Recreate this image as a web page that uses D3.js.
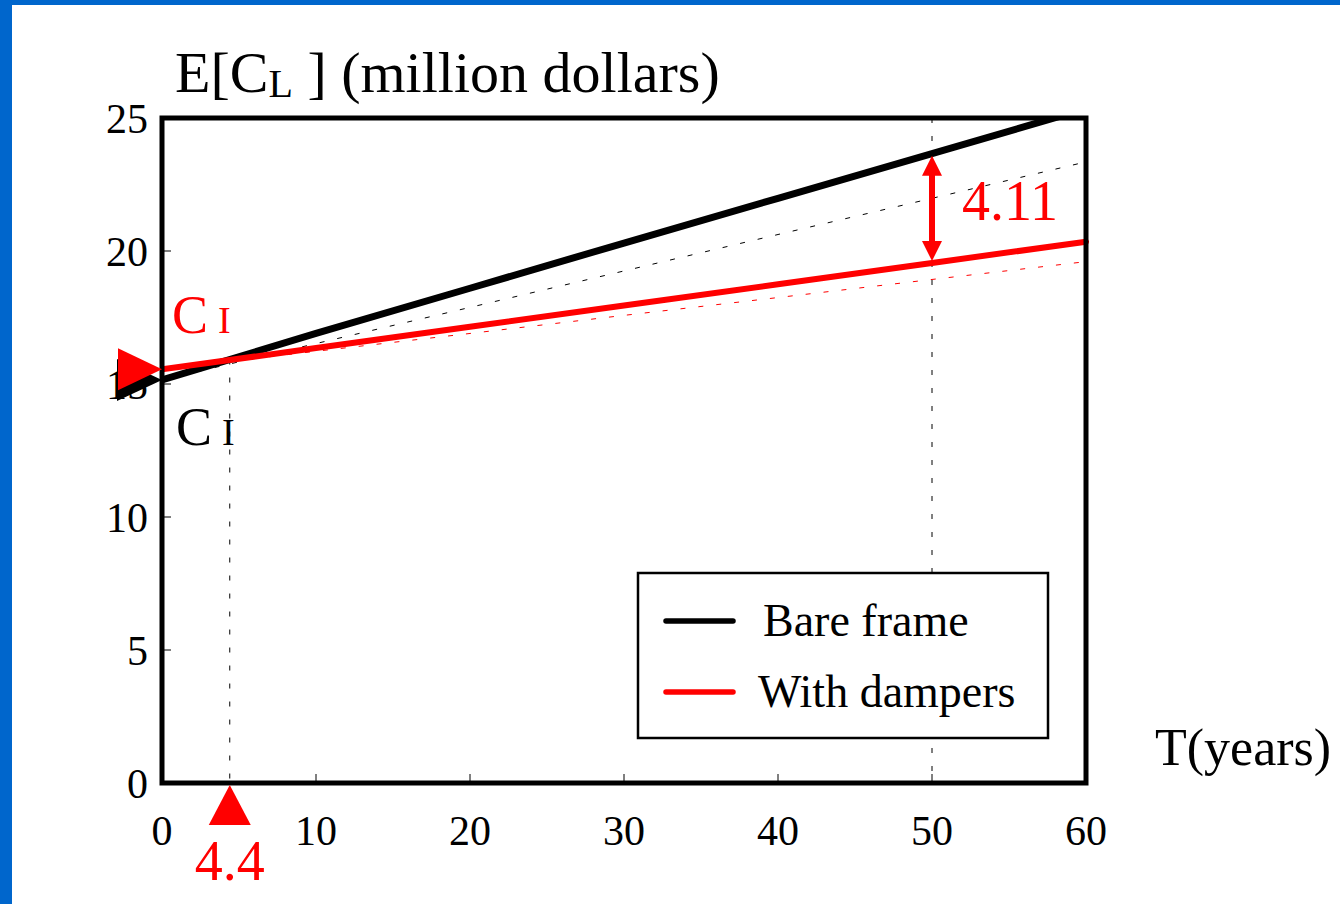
<!DOCTYPE html>
<html>
<head>
<meta charset="utf-8">
<script src="https://cdn.jsdelivr.net/npm/d3@7"></script>
<style>
  html, body { margin: 0; padding: 0; background: #fff; }
  svg { display: block; }
  text { font-family: "Liberation Serif", "Times New Roman", serif; }
</style>
</head>
<body>
<svg id="chart" width="1340" height="904"></svg>
<script>
// Expected life-cycle cost vs. design life
const years        = [0, 10, 20, 30, 40, 50, 60];
const bareFrame    = [15.15, 16.9, 18.6, 20.3, 21.98, 23.66, 25.35];
const withDampers  = [15.55, 16.35, 17.15, 17.95, 18.75, 19.55, 20.35];
const bareRef      = [15.15, 16.52, 17.88, 19.25, 20.62, 21.98, 23.35];
const dampersRef   = [15.55, 16.23, 16.9, 17.58, 18.25, 18.93, 19.6];
const xTicks = [0, 10, 20, 30, 40, 50, 60];
const yTicks = [0, 5, 10, 15, 20, 25];
const breakEven = 4.4;
const compareYear = 50;
const gapLabel = "4.11";
const seriesNames = ["Bare frame", "With dampers"];
const seriesColors = ["#000000", "#ff0000"];

(function draw() {
  const svg = d3.select("#chart");
  const W = 1340, H = 904;
  const pL = 162, pR = 1086, pT = 118, pB = 783;

  const x = d3.scaleLinear().domain([0, 60]).range([pL, pR]);
  const y = d3.scaleLinear().domain([0, 25]).range([pB, pT]);

  // slide border
  svg.append("rect").attr("x", 0).attr("y", 0).attr("width", W).attr("height", 5).attr("fill", "#0066cc");
  svg.append("rect").attr("x", 0).attr("y", 0).attr("width", 12).attr("height", H).attr("fill", "#0066cc");

  svg.append("defs").append("clipPath").attr("id", "plot")
    .append("rect").attr("x", pL).attr("y", pT).attr("width", pR - pL + 4).attr("height", pB - pT);

  const line = d3.line().x((d, i) => x(years[i])).y(d => y(d));
  const plot = svg.append("g").attr("clip-path", "url(#plot)");

  // guide lines
  const dash = "5,13";
  const crossY = bareFrame[0] + (bareFrame[1] - bareFrame[0]) * breakEven / 10;
  plot.append("line")
    .attr("x1", x(breakEven)).attr("x2", x(breakEven))
    .attr("y1", y(crossY)).attr("y2", pB)
    .attr("stroke", "#000").attr("stroke-width", 1).attr("stroke-dasharray", dash);
  plot.append("line")
    .attr("x1", x(compareYear)).attr("x2", x(compareYear))
    .attr("y1", pT).attr("y2", pB)
    .attr("stroke", "#000").attr("stroke-width", 1).attr("stroke-dasharray", dash);

  plot.append("path").datum(bareRef).attr("d", line)
    .attr("fill", "none").attr("stroke", "#000").attr("stroke-width", 1).attr("stroke-dasharray", dash);
  plot.append("path").datum(dampersRef).attr("d", line)
    .attr("fill", "none").attr("stroke", "#ff0000").attr("stroke-width", 1).attr("stroke-dasharray", dash);

  // main series
  plot.append("path").datum(bareFrame).attr("d", line)
    .attr("fill", "none").attr("stroke", "#000").attr("stroke-width", 7).attr("stroke-linecap", "round");
  plot.append("path").datum(withDampers).attr("d", line)
    .attr("fill", "none").attr("stroke", "#ff0000").attr("stroke-width", 6).attr("stroke-linecap", "round");

  // ticks (inward)
  const tickG = svg.append("g");
  yTicks.filter(v => v > 0 && v < 25).forEach(v => {
    tickG.append("line").attr("x1", pL).attr("x2", pL + 9).attr("y1", y(v)).attr("y2", y(v))
      .attr("stroke", "#000").attr("stroke-width", 1);
  });
  xTicks.filter(v => v > 0 && v < 60).forEach(v => {
    tickG.append("line").attr("x1", x(v)).attr("x2", x(v)).attr("y1", pB).attr("y2", pB - 9)
      .attr("stroke", "#000").attr("stroke-width", 1);
  });

  // frame
  svg.append("rect").attr("x", pL).attr("y", pT).attr("width", pR - pL).attr("height", pB - pT)
    .attr("fill", "none").attr("stroke", "#000").attr("stroke-width", 5);

  // tick labels
  svg.append("g").selectAll("text").data(yTicks).join("text")
    .attr("x", 148).attr("y", d => y(d) + 15)
    .attr("text-anchor", "end").attr("font-size", 42).attr("fill", "#000").text(d => d);
  svg.append("g").selectAll("text").data(xTicks).join("text")
    .attr("x", d => x(d)).attr("y", 845)
    .attr("text-anchor", "middle").attr("font-size", 42).attr("fill", "#000").text(d => d);

  // axis titles
  const t = svg.append("text").attr("x", 175).attr("y", 92).attr("font-size", 58).attr("fill", "#000");
  t.append("tspan").text("E[C");
  t.append("tspan").attr("font-size", 40).attr("dy", 5).text("L");
  t.append("tspan").attr("dy", -5).text(" ] (million dollars)");
  svg.append("text").attr("x", 1155).attr("y", 765).attr("font-size", 52).attr("fill", "#000").text("T(years)");

  // initial cost markers
  const tri = (cx, cy, w, h) => `M${cx - w},${cy - h / 2}L${cx},${cy}L${cx - w},${cy + h / 2}Z`;
  svg.append("path").attr("d", tri(x(0), y(bareFrame[0]), 45, 42)).attr("fill", "#000");
  svg.append("path").attr("d", tri(x(0), y(withDampers[0]), 44, 42)).attr("fill", "#ff0000");

  const cRed = svg.append("text").attr("x", 172).attr("y", 333).attr("font-size", 54).attr("fill", "#ff0000");
  cRed.append("tspan").text("C");
  cRed.append("tspan").attr("font-size", 38).attr("dx", 10).text("I");
  const cBlack = svg.append("text").attr("x", 176).attr("y", 445).attr("font-size", 54).attr("fill", "#000");
  cBlack.append("tspan").text("C");
  cBlack.append("tspan").attr("font-size", 38).attr("dx", 10).text("I");

  // break-even marker
  const bx = x(breakEven);
  svg.append("path").attr("d", `M${bx},${pB + 2}L${bx + 21},825L${bx - 21},825Z`).attr("fill", "#ff0000");
  svg.append("text").attr("x", bx).attr("y", 880).attr("text-anchor", "middle")
    .attr("font-size", 56).attr("fill", "#ff0000").text(breakEven);

  // cost gap arrow at compare year
  const ci = years.indexOf(compareYear);
  const yTop = y(bareFrame[ci]), yBot = y(withDampers[ci]);
  const ax = x(compareYear);
  const head = 20, hw = 10;
  svg.append("line").attr("x1", ax).attr("x2", ax).attr("y1", yTop + head - 2).attr("y2", yBot - head + 2)
    .attr("stroke", "#ff0000").attr("stroke-width", 6);
  svg.append("path").attr("d", `M${ax},${yTop + 2}L${ax + hw},${yTop + head + 2}L${ax - hw},${yTop + head + 2}Z`).attr("fill", "#ff0000");
  svg.append("path").attr("d", `M${ax},${yBot - 2}L${ax + hw},${yBot - head - 2}L${ax - hw},${yBot - head - 2}Z`).attr("fill", "#ff0000");
  svg.append("text").attr("x", 962).attr("y", 220).attr("font-size", 56).attr("fill", "#ff0000").text(gapLabel);

  // legend
  const lg = svg.append("g");
  lg.append("rect").attr("x", 638).attr("y", 573).attr("width", 410).attr("height", 165)
    .attr("fill", "#fff").attr("stroke", "#000").attr("stroke-width", 2.5);
  seriesNames.forEach((name, i) => {
    const ly = 621 + i * 71;
    lg.append("line").attr("x1", 666).attr("x2", 733).attr("y1", ly).attr("y2", ly)
      .attr("stroke", seriesColors[i]).attr("stroke-width", 5.5).attr("stroke-linecap", "round");
    lg.append("text").attr("x", i === 0 ? 763 : 758).attr("y", ly + 15).attr("font-size", 46)
      .attr("fill", "#000").text(name);
  });
})();
</script>
</body>
</html>
